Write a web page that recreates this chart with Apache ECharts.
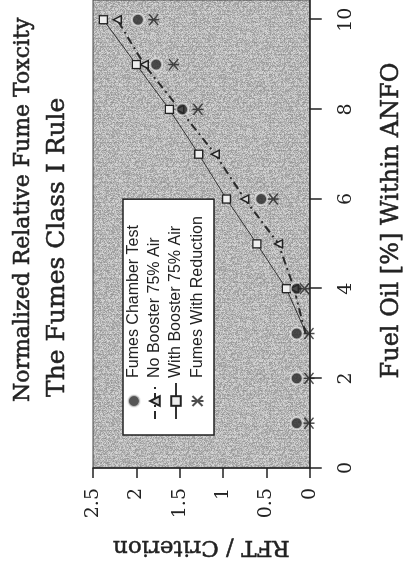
<!DOCTYPE html>
<html><head><meta charset="utf-8">
<script src="https://cdn.jsdelivr.net/npm/echarts@6/dist/echarts.min.js"></script>
<style>
html,body{margin:0;padding:0;background:#fff;overflow:hidden;width:409px;height:571px;}
#wrap{position:absolute;left:-81px;top:81px;width:571px;height:409px;transform:rotate(-90deg);}
#chart{width:571px;height:409px;}
</style></head><body>
<div id="wrap"><div id="chart"></div></div>
<script>
const titleLines = ['Normalized Relative Fume Toxcity', 'The Fumes Class I Rule'];
const xAxisName = 'Fuel Oil [%] Within ANFO';
const yAxisName = 'RFT / Criterion';
const fuelTicks = [0, 2, 4, 6, 8, 10];
const seriesNames = ['Fumes Chamber Test', 'No Booster 75% Air', 'With Booster 75% Air', 'Fumes With Reduction'];
const chamberFuel = [1, 2, 3, 4, 6, 8, 9, 10];
const chamberRFT = [0.15, 0.15, 0.15, 0.15, 0.56, 1.47, 1.77, 1.98];
const noBoosterFuel = [3, 4, 5, 6, 7, 8, 9, 10];
const noBoosterRFT = [0.05, 0.18, 0.36, 0.75, 1.09, 1.50, 1.91, 2.22];
const withBoosterFuel = [3, 4, 5, 6, 7, 8, 9, 10];
const withBoosterRFT = [0.04, 0.27, 0.61, 0.96, 1.28, 1.62, 2.00, 2.38];
const reductionFuel = [1, 2, 3, 4, 6, 8, 9, 10];
const reductionRFT = [0.01, 0.01, 0.01, 0.06, 0.42, 1.29, 1.57, 1.80];

const serif = 'DejaVu Serif';
const ink = '#222';
const heavy = { fontFamily: serif, fontWeight: 'normal', color: ink, textBorderColor: ink, textBorderWidth: 0.5 };
const pair = (xs, ys) => xs.map((x, i) => [x, ys[i]]);
const lineData = (xs, ys) => xs.map((x, i) => i === 0 ? { value: [x, ys[i]], symbol: 'none' } : [x, ys[i]]);
const starPath = 'path://M0,0L10,10M10,0L0,10M5,-1L5,11';

// scanned-paper grain for the plot background (deterministic hash, decorative only)
function grainCanvas() {
  const c = document.createElement('canvas');
  c.width = 96; c.height = 96;
  const g = c.getContext('2d');
  const img = g.createImageData(96, 96);
  for (let y = 0; y < 96; y++) {
    for (let x = 0; x < 96; x++) {
      let h = (x * 374761393 + y * 668265263) | 0;
      h = Math.imul(h ^ (h >>> 13), 1274126177);
      h = (h ^ (h >>> 16)) >>> 0;
      const v = 150 + (h % 64) + ((x % 4 === 0) ? -6 : 4);
      const i = (y * 96 + x) * 4;
      img.data[i] = img.data[i + 1] = img.data[i + 2] = v;
      img.data[i + 3] = 255;
    }
  }
  g.putImageData(img, 0, 0);
  return c;
}

const chart = echarts.init(document.getElementById('chart'), null, { width: 571, height: 409, renderer: 'canvas' });
chart.setOption({
  animation: false,
  backgroundColor: '#fff',
  title: [
    { text: titleLines[0], left: 169, top: 12, padding: 0, textStyle: Object.assign({ fontSize: 22 }, heavy) },
    { text: titleLines[1], left: 174, top: 45, padding: 0, textStyle: Object.assign({ fontSize: 25 }, heavy) }
  ],
  legend: {
    orient: 'vertical', left: 136, top: 123,
    padding: [3, 17, 8, 15],
    itemWidth: 36, itemHeight: 12, itemGap: 5,
    backgroundColor: '#fff', borderColor: ink, borderWidth: 1.5, borderRadius: 0,
    textStyle: { fontFamily: 'Liberation Sans', fontSize: 16, lineHeight: 16, color: ink },
    data: seriesNames
  },
  grid: { left: 103, top: 93, right: -5, bottom: 82, show: true,
    backgroundColor: { image: grainCanvas(), repeat: 'repeat' }, borderColor: '#444', borderWidth: 1 },
  xAxis: {
    type: 'value', min: 0, max: 10.44,
    name: xAxisName, nameLocation: 'middle', nameGap: 70,
    nameTextStyle: Object.assign({ fontSize: 24, padding: [0, 0, 0, 27] }, heavy),
    splitLine: { show: false },
    axisLine: { lineStyle: { color: ink, width: 1.5 } },
    axisTick: { customValues: fuelTicks, length: 12, lineStyle: { color: ink, width: 1.5 } },
    axisLabel: { customValues: fuelTicks, fontFamily: serif, fontSize: 19, color: ink, margin: 27 }
  },
  yAxis: {
    type: 'value', min: 0, max: 2.5, interval: 0.5,
    name: yAxisName, nameLocation: 'middle', nameGap: 67,
    nameTextStyle: Object.assign({ fontSize: 23 }, heavy),
    splitLine: { show: false },
    axisLine: { show: true, lineStyle: { color: ink, width: 1.5 } },
    axisTick: { show: true, length: 10, lineStyle: { color: ink, width: 1.5 } },
    axisLabel: { fontFamily: serif, fontSize: 19, color: ink, margin: 20 }
  },
  series: [
    {
      name: seriesNames[1], type: 'line', z: 3,
      data: lineData(noBoosterFuel, noBoosterRFT),
      symbol: 'triangle', symbolSize: 8, showAllSymbol: true,
      lineStyle: { color: '#2a2a2a', width: 2, type: [8, 4, 2, 4] },
      itemStyle: { color: '#d8d8d8', borderColor: ink, borderWidth: 1.5 }
    },
    {
      name: seriesNames[2], type: 'line', z: 3,
      data: lineData(withBoosterFuel, withBoosterRFT),
      symbol: 'rect', symbolSize: 8, showAllSymbol: true,
      lineStyle: { color: '#333', width: 1 },
      itemStyle: { color: '#eee', borderColor: ink, borderWidth: 1.3 }
    },
    {
      name: seriesNames[0], type: 'scatter', z: 5,
      data: pair(chamberFuel, chamberRFT),
      symbol: 'circle', symbolSize: 12,
      itemStyle: { color: '#2a2a2a', borderColor: 'rgba(235,235,235,0.85)', borderWidth: 2 }
    },
    {
      name: seriesNames[3], type: 'scatter', z: 5,
      data: pair(reductionFuel, reductionRFT),
      symbol: starPath, symbolSize: 11,
      itemStyle: { color: 'none', borderColor: ink, borderWidth: 1.5 }
    }
  ]
});
</script>
</body></html>
